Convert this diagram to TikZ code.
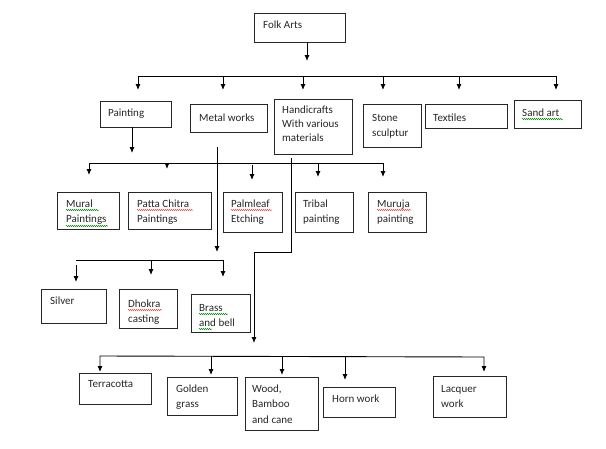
\documentclass[tikz,border=0pt]{standalone}
\usepackage{fontspec}
\setmainfont{Carlito}
\usetikzlibrary{arrows.meta,decorations.pathmorphing}
\begin{document}
\begin{tikzpicture}[x=1pt,y=-1pt,
  box/.style={draw=black!85,line width=0.9pt,inner sep=0pt,outer sep=0pt,anchor=north west},
  lbl/.style={anchor=base west,inner sep=0pt,align=left,font=\fontsize{11}{15.5}\selectfont,text=black!85},
  conn/.style={draw=black,line width=0.9pt},
  arr/.style={conn,-{Latex[length=6pt,width=5pt]}},
  arrtwo/.style={conn,{Latex[length=6pt,width=5pt]}-{Latex[length=6pt,width=5pt]}},
  spellr/.style={draw=red!75,line width=0.5pt,decorate,decoration={snake,segment length=2pt,amplitude=0.6pt}},
  spellg/.style={draw=green!55!black,line width=0.5pt,decorate,decoration={snake,segment length=2pt,amplitude=0.6pt}}]
\useasboundingbox (0,0) rectangle (606,448);

% ---- boxes ----
\node[box,minimum width=91pt,minimum height=29pt] (folk) at (254,13) {};
\node[box,minimum width=71pt,minimum height=26pt] (painting) at (100,101) {};
\node[box,minimum width=77pt,minimum height=28pt] (metal) at (190,104) {};
\node[box,minimum width=78pt,minimum height=55pt] (handi) at (274,99) {};
\node[box,minimum width=58pt,minimum height=43pt] (stone) at (363,104) {};
\node[box,minimum width=82pt,minimum height=24pt] (textiles) at (425,104) {};
\node[box,minimum width=67pt,minimum height=28pt] (sand) at (514,100) {};

\node[box,minimum width=62pt,minimum height=37pt] (mural) at (57,192) {};
\node[box,minimum width=83pt,minimum height=37pt] (patta) at (128,192) {};
\node[box,minimum width=59pt,minimum height=40pt] (palm) at (223,192) {};
\node[box,minimum width=58pt,minimum height=40pt] (tribal) at (295,192) {};
\node[box,minimum width=58pt,minimum height=40pt] (muruja) at (368,192) {};

\node[box,minimum width=65pt,minimum height=34pt] (silver) at (41,289) {};
\node[box,minimum width=58pt,minimum height=39pt] (dhokra) at (119,289) {};
\node[box,minimum width=59pt,minimum height=38pt] (brass) at (191,294) {};

\node[box,minimum width=72pt,minimum height=31pt] (terra) at (79,373) {};
\node[box,minimum width=70pt,minimum height=38pt] (golden) at (167,377) {};
\node[box,minimum width=73pt,minimum height=53pt] (wood) at (245,377) {};
\node[box,minimum width=72pt,minimum height=30pt] (horn) at (323,387) {};
\node[box,minimum width=73pt,minimum height=41pt] (lacquer) at (433,376) {};

% ---- texts (base = baseline of last line) ----
\node[lbl] (tfolk) at (263,28) {Folk Arts};
\node[lbl] (tpainting) at (108,116) {Painting};
\node[lbl] (tmetal) at (199,121) {Metal works};
\node[lbl,font=\fontsize{11}{14}\selectfont] (thandi) at (282,141) {Handicrafts\\With various\\materials};
\node[lbl] (tstone) at (372,136.5) {Stone\\sculptur};
\node[lbl] (ttextiles) at (433,121) {Textiles};
\node[lbl] (tsand) at (522,116) {Sand art};

\node[lbl] (tmural) at (66,222.5) {Mural\\Paintings};
\node[lbl] (tpatta) at (137,222.5) {Patta Chitra\\Paintings};
\node[lbl] (tpalm) at (231,222.5) {Palmleaf\\Etching};
\node[lbl] (ttribal) at (303,222.5) {Tribal\\painting};
\node[lbl] (tmuruja) at (377,222.5) {Muruja\\painting};

\node[lbl] (tsilver) at (50,304) {Silver};
\node[lbl] (tdhokra) at (128,322.5) {Dhokra\\casting};
\node[lbl] (tbrass) at (199,326.5) {Brass\\and bell};

\node[lbl] (tterra) at (88,387) {Terracotta};
\node[lbl] (tgolden) at (176,407.5) {Golden\\grass};
\node[lbl] (twood) at (252,423) {Wood,\\Bamboo\\and cane};
\node[lbl] (thorn) at (332,402) {Horn work};
\node[lbl] (tlacquer) at (441,407.5) {Lacquer\\work};

% ---- spell-check squiggles ----
\draw[spellg] (66,210) -- (99,210);
\draw[spellg] (66,226) -- (108,226);
\draw[spellr] (137,210) -- (193,210);
\draw[spellr] (231,210) -- (272,210);
\draw[spellr] (377,210) -- (411,210);
\draw[spellr] (128,310) -- (162,310);
\draw[spellg] (199,314) -- (228,314);
\draw[spellg] (199,329) -- (212,329);
\draw[spellg] (522,119) -- (563,119);

% ---- connectors ----
\coordinate (a0) at (307,61);
\draw[arr] (folk.south -| a0) -- (a0);

\coordinate (b1L) at (138,76);
\coordinate (b1R) at (556,76);
\coordinate (t1) at (138,90);
\coordinate (t2) at (223,90);
\coordinate (t3) at (303,90);
\coordinate (t4) at (383,90);
\coordinate (t5) at (459,90);
\coordinate (t6) at (556,90);
\draw[arrtwo] (t1) -- (b1L) -- (b1R) -- (t6);
\draw[arr] (t2 |- b1L) -- (t2);
\draw[arr] (t3 |- b1L) -- (t3);
\draw[arr] (t4 |- b1L) -- (t4);
\draw[arr] (t5 |- b1L) -- (t5);

\coordinate (p1) at (132,153);
\draw[arr] (painting.south -| p1) -- (p1);

\coordinate (b2L) at (89,163);
\coordinate (b2R) at (383,163);
\coordinate (u1) at (89,175);
\coordinate (u2) at (167,169);
\coordinate (u3s) at (252,165);
\coordinate (u3) at (252,180);
\coordinate (u4) at (318,177);
\coordinate (u5) at (383,177);
\draw[arrtwo] (u1) -- (b2L) -- (b2R) -- (u5);
\draw[arr] (u2 |- b2L) -- (u2);
\draw[arr] (u3s) -- (u3);
\draw[arr] (u4 |- b2L) -- (u4);

\coordinate (m0) at (217,147);
\coordinate (m1) at (217,252);
\draw[arr] (m0) -- (m1);

\coordinate (b3L) at (76,260);
\coordinate (b3R) at (223,260);
\coordinate (v1s) at (76,265);
\coordinate (v1) at (76,282);
\coordinate (v2) at (151,275);
\coordinate (v3) at (223,277);
\draw[arr] (b3L) -- (b3R) -- (v3);
\draw[arr] (v1s) -- (v1);
\draw[arr] (v2 |- b3L) -- (v2);

\coordinate (h0) at (291,158);
\coordinate (h1) at (291,252);
\coordinate (h2) at (254,252);
\coordinate (h3) at (254,343);
\draw[arr] (h0) -- (h1) -- (h2) -- (h3);

\coordinate (b4L) at (100,356);
\coordinate (b4R) at (484,357);
\coordinate (w1) at (100,372);
\coordinate (w2) at (211,375);
\coordinate (w3) at (282,375);
\coordinate (w4) at (345,380);
\coordinate (w5) at (484,372);
\draw[arrtwo] (w1) -- (b4L) -- (b4R) -- (w5);
\draw[arr] (w2 |- b4L) -- (w2);
\draw[arr] (w3 |- b4L) -- (w3);
\draw[arr] (w4 |- b4L) -- (w4);
\end{tikzpicture}
\end{document}
